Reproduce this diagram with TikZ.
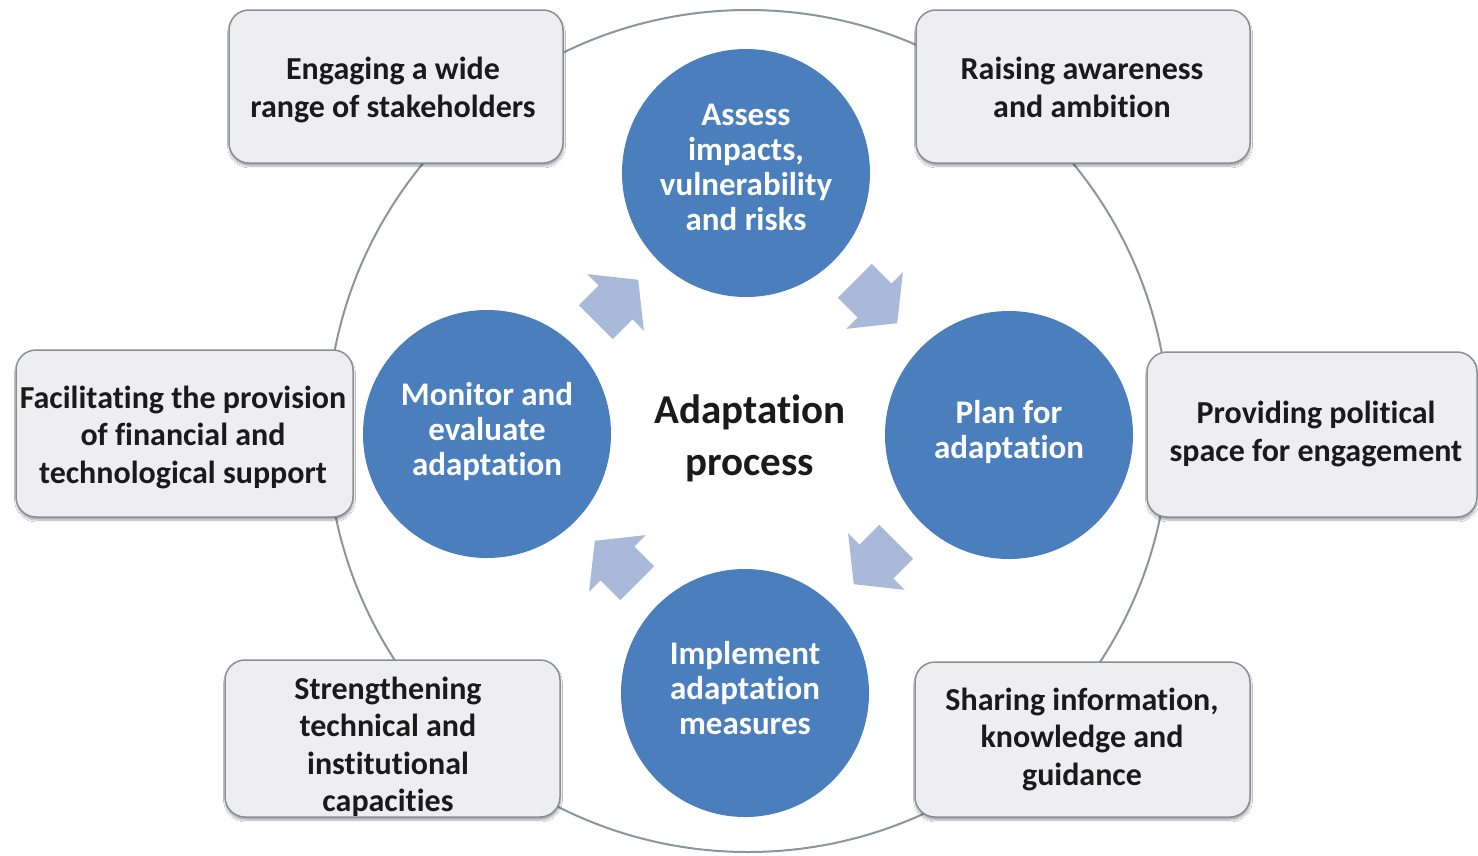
\documentclass[tikz,border=0pt]{standalone}
\usepackage{fontspec}
\setmainfont[Ligatures={NoCommon}]{Carlito}
\usetikzlibrary{shadows.blur}
\definecolor{ringgray}{HTML}{8E949C}
\definecolor{stepblue}{HTML}{4A7EBD}
\definecolor{arrowblue}{HTML}{A8B9DA}
\definecolor{boxfill}{HTML}{EEEEF1}
\definecolor{boxline}{HTML}{8A8F97}
\definecolor{inktext}{HTML}{1A1A1A}
\begin{document}
\begin{tikzpicture}[x=1pt,y=-1pt,
  ring/.style={circle, draw=ringgray, line width=2pt, minimum size=842pt, inner sep=0pt},
  stepcircle/.style={circle, fill=stepblue, minimum size=248pt, inner sep=0pt,
    text=white, align=center, font=\fontsize{33}{35}\selectfont\bfseries,
    execute at begin node={\strut\rule{0pt}{\dimexpr0.7\baselineskip+5pt\relax}},
    execute at end node=\strut},
  infobox/.style={draw=boxline, fill=boxfill, line width=1.5pt, rounded corners=20pt, inner sep=0pt,
    blur shadow={shadow xshift=0.5pt, shadow yshift=-3pt, shadow blur steps=6, shadow opacity=35}},
  infotext/.style={text=inktext, align=center, font=\fontsize{32}{37.5}\selectfont\bfseries,
    execute at begin node=\strut, execute at end node=\strut, inner sep=0pt},
  centertext/.style={text=inktext, align=center, font=\fontsize{41}{52}\selectfont\bfseries,
    execute at begin node=\strut, execute at end node=\strut, inner sep=0pt},
  flowarrow/.style={fill=arrowblue}
]
\useasboundingbox (0,0) rectangle (1478,855);
\fill[white] (0,0) rectangle (1478,855);

% outer ring
\node[ring] (ring) at (748,431) {};

% info boxes
\node[infobox, minimum width=334pt, minimum height=153pt] (engage) at (396,86.5) {};
\node[infobox, minimum width=334pt, minimum height=153pt] (raise) at (1083,86.5) {};
\node[infobox, minimum width=337pt, minimum height=167pt] (finance) at (184.5,433.5) {};
\node[infobox, minimum width=330pt, minimum height=165pt] (political) at (1312,434.5) {};
\node[infobox, minimum width=335pt, minimum height=157pt] (capacity) at (392.5,738.5) {};
\node[infobox, minimum width=335pt, minimum height=155pt] (sharing) at (1082.5,739.5) {};

\node[infotext] (engageT) at (393,93) {Engaging a wide\\range of stakeholders};
\node[infotext] (raiseT) at (1082,93) {Raising awareness\\and ambition};
\node[infotext] (financeT) at (183,440) {Facilitating the provision\\of financial and\\technological support};
\node[infotext] (politicalT) at (1316,437) {Providing political\\space for engagement};
\node[infotext] (capacityT) at (388,750) {Strengthening\\technical and\\institutional\\capacities};
\node[infotext] (sharingT) at (1082,742) {Sharing information,\\knowledge and\\guidance};

% process steps
\node[stepcircle] (assess) at (746,173) {Assess\\impacts,\\vulnerability\\and risks};
\node[stepcircle] (plan) at (1009,435) {Plan for\\adaptation};
\node[stepcircle] (implement) at (745,693) {Implement\\adaptation\\measures};
\node[stepcircle] (monitor) at (487,434) {Monitor and\\evaluate\\adaptation};

\node[centertext] (center) at (750,443) {Adaptation\\process};

% block arrows
\fill[flowarrow, shift={(617,301)}, rotate=45]
  (-30,-24) -- (-2,-24) -- (-2,-40) -- (30,0) -- (-2,40) -- (-2,24) -- (-30,24) -- cycle;
\fill[flowarrow, shift={(876,302)}, rotate=-45]
  (-30,-24) -- (-2,-24) -- (-2,-40) -- (30,0) -- (-2,40) -- (-2,24) -- (-30,24) -- cycle;
\fill[flowarrow, shift={(875,563)}, rotate=-135]
  (-30,-24) -- (-2,-24) -- (-2,-40) -- (30,0) -- (-2,40) -- (-2,24) -- (-30,24) -- cycle;
\fill[flowarrow, shift={(616,562)}, rotate=135]
  (-30,-24) -- (-2,-24) -- (-2,-40) -- (30,0) -- (-2,40) -- (-2,24) -- (-30,24) -- cycle;
\end{tikzpicture}
\end{document}
